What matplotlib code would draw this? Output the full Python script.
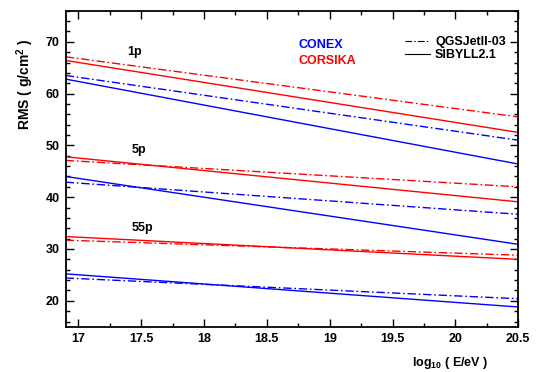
import numpy as np
import matplotlib.pyplot as plt
from matplotlib.lines import Line2D
from matplotlib.ticker import MultipleLocator, FormatStrFormatter

plt.rcParams['font.family'] = ['Liberation Sans', 'DejaVu Sans']
plt.rcParams['font.weight'] = 'bold'
plt.rcParams['mathtext.default'] = 'bf'
plt.rcParams['mathtext.fontset'] = 'custom'
plt.rcParams['mathtext.bf'] = 'Liberation Sans:bold'
plt.rcParams['mathtext.rm'] = 'Liberation Sans:bold'

# log10(E/eV) at the ends of the plotted range
energy = [16.9, 20.5]

# RMS of Xmax in g/cm^2, read at the two ends
conex_qgs_1p = [63.5, 51.0]
conex_sib_1p = [62.8, 46.4]
corsika_qgs_1p = [67.1, 55.5]
corsika_sib_1p = [66.4, 52.5]

conex_qgs_5p = [42.9, 36.7]
conex_sib_5p = [44.0, 30.9]
corsika_qgs_5p = [47.1, 42.0]
corsika_sib_5p = [47.8, 39.1]

conex_qgs_55p = [24.4, 20.4]
conex_sib_55p = [25.2, 18.8]
corsika_qgs_55p = [31.7, 28.8]
corsika_sib_55p = [32.4, 28.0]

group_labels = ['1p', '5p', '55p']
label_x = [17.45, 17.48, 17.51]
label_y = [68.1, 49.2, 34.0]

fig = plt.figure(figsize=(5.37, 3.72), dpi=100)
ax = fig.add_axes([0.1223, 0.1218, 0.8429, 0.8494])

dashdot = (0, (6, 2, 1.2, 2))
lw = 1.0

ax.plot(energy, conex_qgs_1p, color='#0000ff', ls=dashdot, lw=lw)
ax.plot(energy, conex_sib_1p, color='#0000ff', ls='-', lw=lw)
ax.plot(energy, corsika_qgs_1p, color='#ff0000', ls=dashdot, lw=lw)
ax.plot(energy, corsika_sib_1p, color='#ff0000', ls='-', lw=lw)

ax.plot(energy, conex_qgs_5p, color='#0000ff', ls=dashdot, lw=lw)
ax.plot(energy, conex_sib_5p, color='#0000ff', ls='-', lw=lw)
ax.plot(energy, corsika_qgs_5p, color='#ff0000', ls=dashdot, lw=lw)
ax.plot(energy, corsika_sib_5p, color='#ff0000', ls='-', lw=lw)

ax.plot(energy, conex_qgs_55p, color='#0000ff', ls=dashdot, lw=lw)
ax.plot(energy, conex_sib_55p, color='#0000ff', ls='-', lw=lw)
ax.plot(energy, corsika_qgs_55p, color='#ff0000', ls=dashdot, lw=lw)
ax.plot(energy, corsika_sib_55p, color='#ff0000', ls='-', lw=lw)

for lab, x, y in zip(group_labels, label_x, label_y):
    ax.text(x, y, lab, ha='center', va='center', fontsize=9, fontweight='bold')

ax.set_xlim(16.9, 20.5)
ax.set_ylim(15, 76)

ax.xaxis.set_major_locator(MultipleLocator(0.5))
ax.xaxis.set_minor_locator(MultipleLocator(0.25))
ax.xaxis.set_major_formatter(FormatStrFormatter('%g'))
ax.yaxis.set_major_locator(MultipleLocator(10))
ax.yaxis.set_minor_locator(MultipleLocator(2))

ax.tick_params(which='both', direction='in', top=True, right=True,
               width=1.0, labelsize=9)
ax.tick_params(which='major', length=6, pad=4.5)
ax.tick_params(which='minor', length=3)
for lab in ax.get_xticklabels() + ax.get_yticklabels():
    lab.set_fontweight('bold')
for s in ax.spines.values():
    s.set_linewidth(1.3)

ax.set_xlabel(r'log$_{10}$ ( E/eV )', fontsize=9, fontweight='bold')
ax.xaxis.set_label_coords(0.85, -0.09)
ax.set_ylabel(r'RMS ( g/cm$^{2}$ )', fontsize=10, fontweight='bold')
ax.yaxis.set_label_coords(-0.066, 0.768)

ax.text(0.514, 0.891, 'CONEX', color='#0000ff', transform=ax.transAxes,
        ha='left', va='center', fontsize=9, fontweight='bold')
ax.text(0.514, 0.841, 'CORSIKA', color='#ff0000', transform=ax.transAxes,
        ha='left', va='center', fontsize=9, fontweight='bold')

handles = [Line2D([], [], color='black', ls=dashdot, lw=0.8),
           Line2D([], [], color='black', ls='-', lw=0.8)]
leg = ax.legend(handles, ['QGSJetII-03', 'SIBYLL2.1'], loc='upper left',
                bbox_to_anchor=(0.75, 0.919), frameon=False, fontsize=9,
                handlelength=2.0, handletextpad=0.4, labelspacing=0.05,
                borderpad=0, borderaxespad=0)
for t in leg.get_texts():
    t.set_fontweight('bold')

fig.savefig('out.png', dpi=100)
